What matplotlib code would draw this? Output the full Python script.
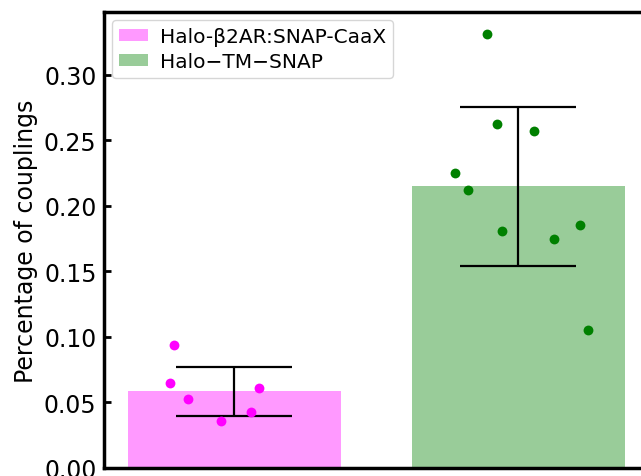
import matplotlib
matplotlib.use('Agg')
import matplotlib.pyplot as plt
import numpy as np

# Data
labels = ['Halo-β2AR:SNAP-CaaX', 'Halo\u2212TM\u2212SNAP']
colors = ['magenta', 'green']

pink_x = [-0.213, -0.227, -0.164, -0.048, 0.058, 0.086]
pink_y = [0.0937, 0.0647, 0.0525, 0.0357, 0.0426, 0.0609]

green_x = [-0.109, -0.074, 0.056, -0.222, -0.175, -0.055, 0.127, 0.217, 0.247]
green_y = [0.3311, 0.2622, 0.2573, 0.2253, 0.2123, 0.1805, 0.1747, 0.1851, 0.1050]

groups = [(pink_x, pink_y), (green_x, green_y)]

fig = plt.figure(figsize=(6.41, 4.77), dpi=100)
ax = fig.add_axes([0.1615, 0.0172, 0.886, 0.9555])

for i, (xs, ys) in enumerate(groups):
    mean = np.mean(ys)
    std = np.std(ys)
    ax.bar(i, mean, width=0.75, color=colors[i], alpha=0.4, label=labels[i], zorder=1)
    ax.errorbar(i, mean, yerr=std, color='black', capsize=42, elinewidth=1.6,
                capthick=1.6, zorder=2)
    ax.scatter(np.array(xs) + i, ys, s=50, color=colors[i], zorder=3, linewidths=0)

ax.set_xlim(-0.46, 1.54)
ax.set_ylim(0, 0.348)
ax.set_xticks([])
ax.set_yticks([0.0, 0.05, 0.10, 0.15, 0.20, 0.25, 0.30])
ax.set_yticklabels(['0.00', '0.05', '0.10', '0.15', '0.20', '0.25', '0.30'])
ax.tick_params(axis='y', direction='in', length=5, width=2, labelsize=17, pad=5)
ax.set_ylabel('Percentage of couplings', fontsize=17, labelpad=4)
for s in ax.spines.values():
    s.set_linewidth(2.5)

ax.legend(loc='upper left', fontsize=14.5, borderpad=0.35, labelspacing=0.3,
          handlelength=1.45, handleheight=0.5, handletextpad=0.6,
          borderaxespad=0.4)

plt.savefig('out.png', dpi=100)
